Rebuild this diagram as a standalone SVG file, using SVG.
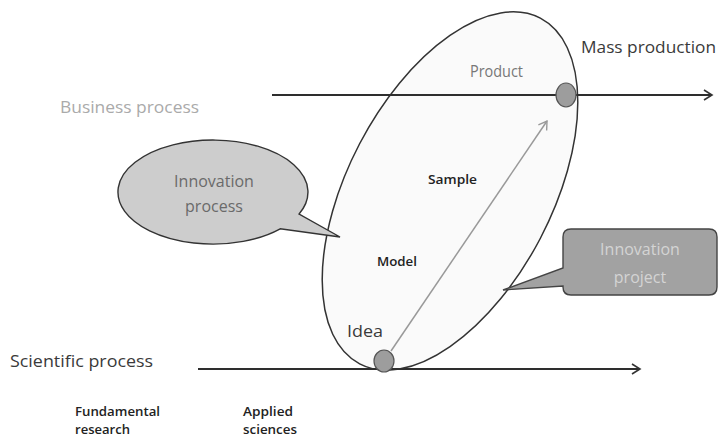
<svg xmlns="http://www.w3.org/2000/svg" width="719" height="439" viewBox="0 0 719 439">
<style>
text{font-family:"Open Sans","Liberation Sans",sans-serif}
.lbl{fill:#3a3a3a}
.bold{font-weight:600;fill:#222;font-size:12px}
.line{stroke:#2e2e2e;stroke-width:2;fill:none}
.dot{fill:#9d9d9d;stroke:#555;stroke-width:1.2}
</style>
<defs>
<marker id="chev" markerUnits="userSpaceOnUse" markerWidth="14" markerHeight="14" refX="10" refY="6" orient="auto">
<path d="M2,1 L10,6 L2,11" fill="none" stroke="#333" stroke-width="1.6"/>
</marker>
<marker id="chevg" markerUnits="userSpaceOnUse" markerWidth="14" markerHeight="14" refX="10" refY="6" orient="auto">
<path d="M2,1 L10,6 L2,11" fill="none" stroke="#999" stroke-width="1.4"/>
</marker>
</defs>
<rect width="719" height="439" fill="#fff"/>
<g id="innovation-zone">
<ellipse cx="0" cy="0" rx="195" ry="102" transform="translate(450,191) rotate(-62.4)" fill="#fafafa" stroke="#333" stroke-width="1.5"/>
</g>
<g id="connectors">
<line class="line" x1="272" y1="95" x2="712" y2="95" marker-end="url(#chev)"/>
<line class="line" x1="198" y1="369" x2="640" y2="369" marker-end="url(#chev)"/>
<line x1="391" y1="351" x2="547" y2="121" stroke="#999" stroke-width="1.5" marker-end="url(#chevg)"/>
</g>
<g id="product">
<ellipse class="dot" cx="566" cy="95" rx="10" ry="12"/>
<text x="470" y="77" font-size="16" fill="#777" textLength="53" lengthAdjust="spacingAndGlyphs">Product</text>
</g>
<g id="idea">
<ellipse class="dot" cx="384" cy="361" rx="10" ry="11"/>
<text class="lbl" x="347" y="337" font-size="16" textLength="36" lengthAdjust="spacingAndGlyphs">Idea</text>
</g>
<g id="sample"><text class="bold" x="428" y="184" textLength="49" lengthAdjust="spacingAndGlyphs">Sample</text></g>
<g id="model"><text class="bold" x="377" y="266" textLength="40" lengthAdjust="spacingAndGlyphs">Model</text></g>
<g id="business-process"><text x="60" y="113" font-size="16" fill="#aaa" textLength="139" lengthAdjust="spacingAndGlyphs">Business process</text></g>
<g id="mass-production"><text class="lbl" x="581" y="53" font-size="17" textLength="135" lengthAdjust="spacingAndGlyphs">Mass production</text></g>
<g id="scientific-process"><text class="lbl" x="10" y="367" font-size="17" textLength="143" lengthAdjust="spacingAndGlyphs">Scientific process</text></g>
<g id="fundamental-research">
<text class="bold" x="75" y="416" textLength="85" lengthAdjust="spacingAndGlyphs">Fundamental</text>
<text class="bold" x="75" y="434" textLength="55" lengthAdjust="spacingAndGlyphs">research</text>
</g>
<g id="applied-sciences">
<text class="bold" x="243" y="416" textLength="50" lengthAdjust="spacingAndGlyphs">Applied</text>
<text class="bold" x="243" y="434" textLength="54" lengthAdjust="spacingAndGlyphs">sciences</text>
</g>
<g id="innovation-process">
<path d="M280.2,228.8 A95,52 0 1 1 299.1,214 L340,237 Z" fill="#cdcdcd" stroke="#333" stroke-width="1.4"/>
<text x="214" y="187" font-size="16" fill="#6a6a6a" text-anchor="middle">Innovation</text>
<text x="214" y="212" font-size="16" fill="#6a6a6a" text-anchor="middle">process</text>
</g>
<g id="innovation-project">
<path d="M571,229 H709 Q717,229 717,237 V287 Q717,295 709,295 H571 Q563,295 563,287 V286 L503,290 L563,268 V237 Q563,229 571,229 Z" fill="#a2a2a2" stroke="#444" stroke-width="1.4"/>
<text x="640" y="255" font-size="16" fill="#d4d4d4" text-anchor="middle">Innovation</text>
<text x="640" y="283" font-size="16" fill="#d4d4d4" text-anchor="middle">project</text>
</g>
</svg>
